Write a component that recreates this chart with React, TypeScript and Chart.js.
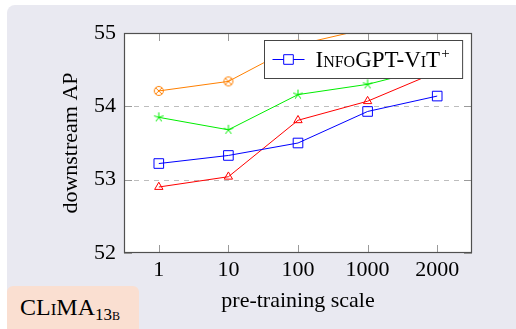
import React, { useEffect, useRef } from 'react';
import { Chart, registerables } from 'chart.js';
import { drawPoint } from 'chart.js/helpers';

Chart.register(...registerables);

// ---- data ----
const SCALES = ['1', '10', '100', '1000', '2000'];
const INFOGPT_VIT = [53.22, 53.33, 53.5, 53.93, 54.14];
const RED_SERIES = [52.9, 53.04, 53.81, 54.07, 54.47];
const GREEN_SERIES = [53.85, 53.68, 54.16, 54.3, 54.54];
const ORANGE_SERIES = [54.21, 54.34, 54.84, 55.06, 55.25];
const Y_MIN = 52;
const Y_MAX = 55;
const Y_STEP = 1;
const LEGEND_LABEL = 'InfoGPT-ViT';
const LEGEND_SUP = '+';
const X_TITLE = 'pre-training scale';
const Y_TITLE = 'downstream AP';
const BADGE = 'CLiMA';
const BADGE_SUB = '13b';

const SERIF = "'Liberation Serif', 'Times New Roman', serif";

function makeStar(color: string, r: number) {
  const c = document.createElement('canvas');
  c.width = 12;
  c.height = 12;
  const ctx = c.getContext('2d')!;
  ctx.strokeStyle = color;
  ctx.lineWidth = 1;
  for (let k = 0; k < 5; k++) {
    const ang = -Math.PI / 2 + (k * 2 * Math.PI) / 5;
    ctx.beginPath();
    ctx.moveTo(6, 6);
    ctx.lineTo(6 + r * Math.cos(ang), 6 + r * Math.sin(ang));
    ctx.stroke();
  }
  return c;
}

function makeOtimes(color: string, r: number) {
  const c = document.createElement('canvas');
  c.width = 12;
  c.height = 12;
  const ctx = c.getContext('2d')!;
  ctx.strokeStyle = color;
  ctx.lineWidth = 1;
  ctx.beginPath();
  ctx.arc(6, 6, r, 0, Math.PI * 2);
  ctx.stroke();
  const d = r * Math.SQRT1_2;
  ctx.beginPath();
  ctx.moveTo(6 - d, 6 - d);
  ctx.lineTo(6 + d, 6 + d);
  ctx.moveTo(6 + d, 6 - d);
  ctx.lineTo(6 - d, 6 + d);
  ctx.stroke();
  return c;
}

const framePlugin = {
  id: 'pgfFrame',
  beforeDraw(chart: any) {
    const { ctx, chartArea: a } = chart;
    ctx.save();
    ctx.fillStyle = '#ffffff';
    ctx.fillRect(a.left, a.top, a.right - a.left, a.bottom - a.top);
    ctx.restore();
  },
  beforeDatasetsDraw(chart: any) {
    const { ctx, chartArea: a } = chart;
    const y = chart.scales.y;
    ctx.save();
    ctx.strokeStyle = '#bdbdbd';
    ctx.lineWidth = 1;
    ctx.setLineDash([5, 5]);
    y.ticks.forEach((t: any) => {
      if (t.value <= y.min || t.value >= y.max) return;
      const py = Math.round(y.getPixelForValue(t.value)) + 0.5;
      ctx.beginPath();
      ctx.moveTo(a.left, py);
      ctx.lineTo(a.right, py);
      ctx.stroke();
    });
    ctx.restore();
  },
  afterDatasetsDraw(chart: any) {
    const { ctx, chartArea: a } = chart;
    const x = chart.scales.x;
    const y = chart.scales.y;
    const L = 8;
    ctx.save();
    ctx.strokeStyle = '#9a9a9a';
    ctx.lineWidth = 1;
    x.ticks.forEach((_t: any, i: number) => {
      const px = Math.round(x.getPixelForTick(i)) + 0.5;
      ctx.beginPath();
      ctx.moveTo(px, a.bottom);
      ctx.lineTo(px, a.bottom - L);
      ctx.moveTo(px, a.top);
      ctx.lineTo(px, a.top + L);
      ctx.stroke();
    });
    y.ticks.forEach((t: any) => {
      const py = Math.round(y.getPixelForValue(t.value)) + 0.5;
      ctx.beginPath();
      ctx.moveTo(a.left, py);
      ctx.lineTo(a.left + L, py);
      ctx.moveTo(a.right, py);
      ctx.lineTo(a.right - L, py);
      ctx.stroke();
    });
    ctx.strokeStyle = '#505050';
    ctx.lineWidth = 1.2;
    ctx.strokeRect(a.left + 0.5, a.top + 0.5, a.right - a.left - 1, a.bottom - a.top - 1);
    ctx.restore();
  },
  afterDraw(chart: any) {
    const { ctx, chartArea: a } = chart;
    const ds = chart.data.datasets[0];
    ctx.save();
    const mainFont = `small-caps 23px ${SERIF}`;
    const supFont = `15px ${SERIF}`;
    ctx.font = mainFont;
    (ctx as any).fontVariantCaps = 'small-caps';
    const tw = ctx.measureText(ds.label).width;
    (ctx as any).fontVariantCaps = 'normal';
    ctx.font = supFont;
    const sw = ctx.measureText(LEGEND_SUP).width;
    const padL = 8, sample = 32, gap = 11, padR = 13, h = 38;
    const w = padL + sample + gap + tw + sw + 1 + padR;
    const x0 = Math.round(a.right - 10 - w) + 0.5;
    const y0 = Math.round(a.top + 7) + 0.5;
    ctx.fillStyle = '#ffffff';
    ctx.fillRect(x0, y0, w, h);
    ctx.strokeStyle = '#454545';
    ctx.lineWidth = 1;
    ctx.strokeRect(x0, y0, w, h);
    const cy = y0 + h / 2;
    ctx.strokeStyle = ds.borderColor;
    ctx.lineWidth = ds.borderWidth;
    ctx.beginPath();
    ctx.moveTo(x0 + padL, cy);
    ctx.lineTo(x0 + padL + sample, cy);
    ctx.stroke();
    drawPoint(ctx, { pointStyle: ds.pointStyle, radius: ds.pointRadius, borderWidth: ds.pointBorderWidth, rotation: 0 } as any, x0 + padL + sample / 2, cy);
    ctx.fillStyle = '#000';
    ctx.textBaseline = 'alphabetic';
    ctx.textAlign = 'left';
    ctx.font = mainFont;
    (ctx as any).fontVariantCaps = 'small-caps';
    const tx = x0 + padL + sample + gap;
    ctx.fillText(ds.label, tx, y0 + 26.5);
    (ctx as any).fontVariantCaps = 'normal';
    ctx.font = supFont;
    ctx.fillText(LEGEND_SUP, tx + tw + 1, y0 + 17);
    ctx.restore();
  },
};

export default function App() {
  const ref = useRef<HTMLCanvasElement>(null);

  useEffect(() => {
    const star = makeStar('#00ee00', 5);
    const otimes = makeOtimes('#ff8000', 4.5);
    const line = (label: string, data: number[], color: string, pointStyle: any, radius: number) => ({
      label,
      data,
      borderColor: color,
      backgroundColor: 'transparent',
      borderWidth: 1,
      pointStyle,
      pointRadius: radius,
      pointHoverRadius: radius,
      pointBorderColor: color,
      pointBackgroundColor: 'rgba(0,0,0,0)',
      pointBorderWidth: 1,
      tension: 0,
      clip: 0,
    });
    const chart = new Chart(ref.current!, {
      type: 'line',
      data: {
        labels: SCALES,
        datasets: [
          line(LEGEND_LABEL, INFOGPT_VIT, '#0000ff', 'rect', 6.8),
          line('red', RED_SERIES, '#ff0000', 'triangle', 4.8),
          line('green', GREEN_SERIES, '#00ee00', star, 5),
          line('orange', ORANGE_SERIES, '#ff8000', otimes, 4.5),
        ] as any,
      },
      options: {
        animation: false,
        responsive: false,
        devicePixelRatio: 1,
        layout: { padding: { top: 33, right: 44, bottom: 0, left: 0 } },
        plugins: { legend: { display: false }, tooltip: { enabled: false } },
        events: [],
        scales: {
          x: {
            type: 'category',
            offset: true,
            grid: { display: false, drawTicks: false },
            border: { display: false },
            ticks: { color: '#000', padding: 4, font: { family: SERIF, size: 22 }, maxRotation: 0 },
            title: { display: true, text: X_TITLE, color: '#000', font: { family: SERIF, size: 22 }, padding: { top: 0, bottom: 15 } },
            afterFit: (s: any) => { s.height = 76; },
          },
          y: {
            type: 'linear',
            min: Y_MIN,
            max: Y_MAX,
            grid: { display: false, drawTicks: false },
            border: { display: false },
            ticks: { stepSize: Y_STEP, color: '#000', padding: 8, font: { family: SERIF, size: 22 } },
            title: { display: true, text: Y_TITLE, color: '#000', font: { family: SERIF, size: 22 }, padding: { top: 58, bottom: 0 } },
            afterFit: (s: any) => { s.width = 124; },
          },
        },
      },
      plugins: [framePlugin],
    });
    return () => chart.destroy();
  }, []);

  return (
    <div style={{ position: 'fixed', left: 0, top: 0, width: 516, height: 329, overflow: 'hidden', background: '#ffffff' }}>
      <div style={{ position: 'absolute', left: 7, top: 5, width: 540, height: 360, borderRadius: 8, background: '#e9e9f1' }} />
      <canvas ref={ref} width={516} height={329} style={{ position: 'absolute', left: 0, top: 0, width: 516, height: 329 }} />
      <div
        style={{
          position: 'absolute', left: 7, top: 286, width: 132, height: 60,
          background: '#fadfd1', borderRadius: '6px 6px 0 0',
          fontFamily: SERIF, fontSize: 24, fontVariant: 'small-caps', color: '#000',
          lineHeight: '24px', paddingLeft: 13, paddingTop: 9, boxSizing: 'border-box', whiteSpace: 'nowrap',
        }}
      >
        {BADGE}
        <span style={{ fontSize: 17, verticalAlign: '-5px', lineHeight: 0 }}>{BADGE_SUB}</span>
      </div>
    </div>
  );
}
